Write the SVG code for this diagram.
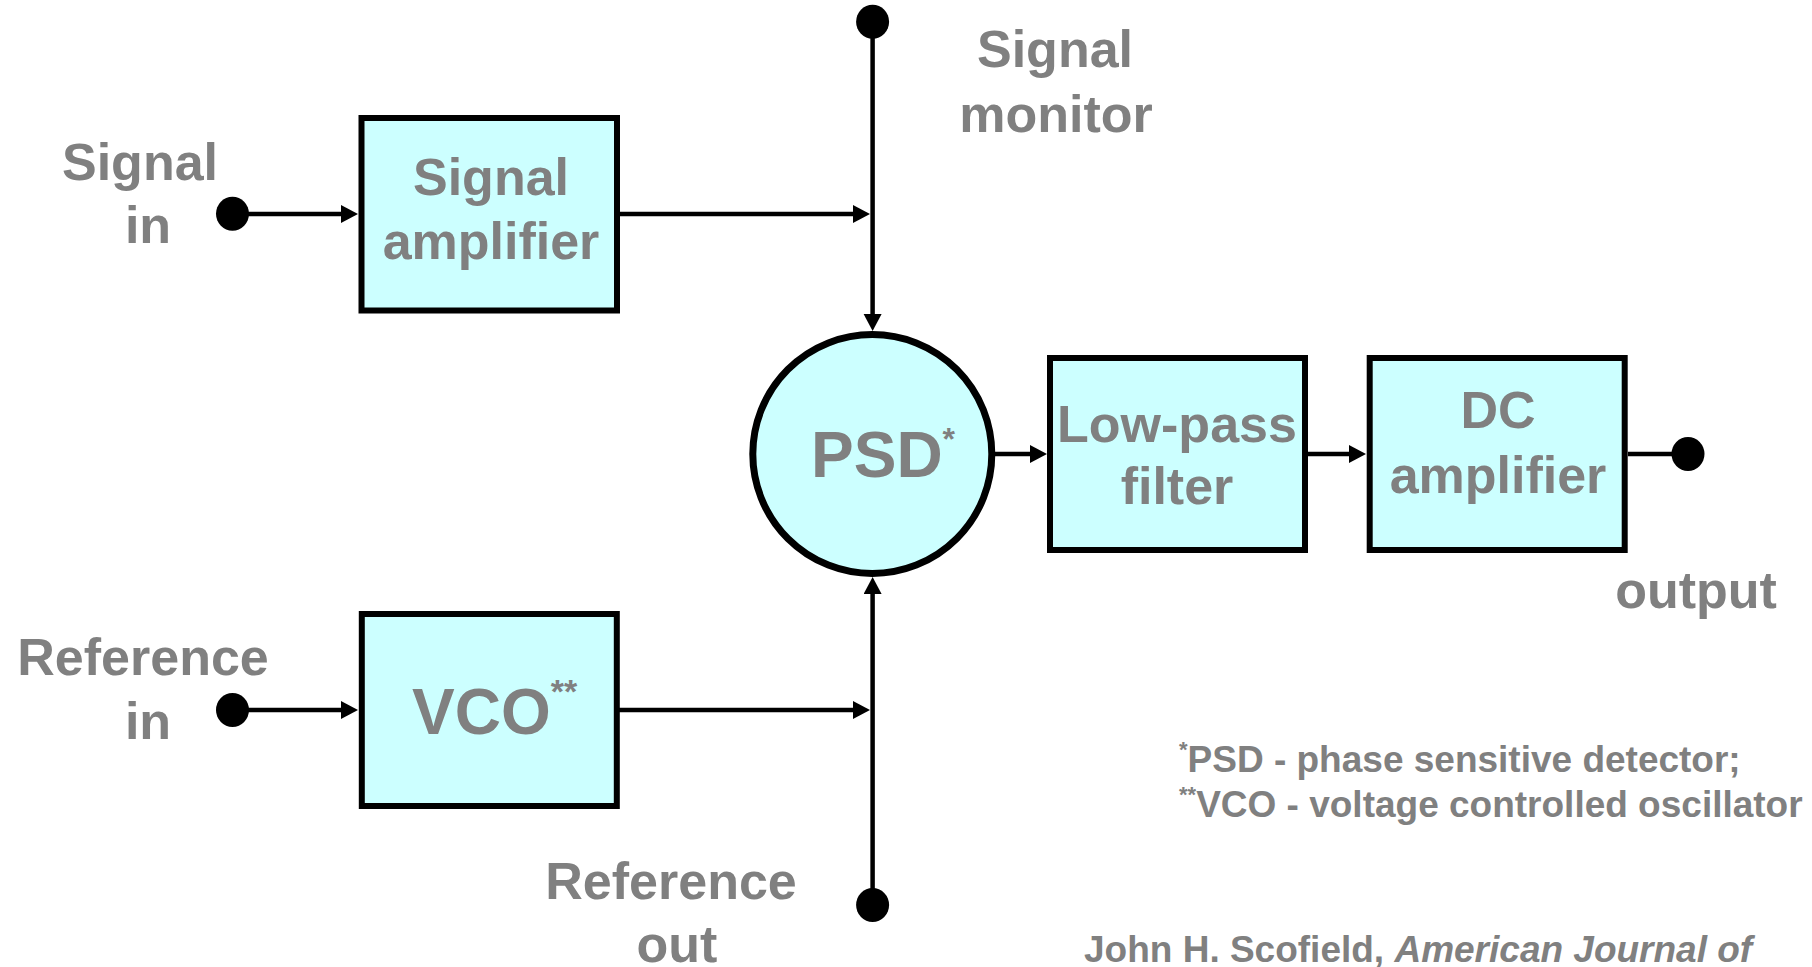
<svg xmlns="http://www.w3.org/2000/svg" width="1812" height="967" viewBox="0 0 1812 967">
<style>
  .box { fill: #CCFFFF; stroke: #000; stroke-width: 6; }
  .circ { fill: #CCFFFF; stroke: #000; stroke-width: 7; }
  .ln { stroke: #000; stroke-width: 4.5; fill: none; }
  .dot { fill: #000; }
  text { font-family: "Liberation Sans", Arial, sans-serif; font-weight: bold; fill: #808080; }
  .lbl { font-size: 52px; text-anchor: middle; }
  .big { font-size: 64px; }
  .note { font-size: 37px; }
</style>
<defs>
  <marker id="arr" markerUnits="userSpaceOnUse" markerWidth="18" markerHeight="20" refX="10" refY="9" orient="auto">
    <path d="M0,0 L17,9 L0,18 z" fill="#000"/>
  </marker>
</defs>
<rect width="1812" height="967" fill="#fff"/>

<g id="connectors">
  <line class="ln" x1="232" y1="214" x2="351" y2="214" marker-end="url(#arr)"/>
  <line class="ln" x1="619" y1="214" x2="863" y2="214" marker-end="url(#arr)"/>
  <line class="ln" x1="232" y1="710" x2="351" y2="710" marker-end="url(#arr)"/>
  <line class="ln" x1="619" y1="710" x2="863" y2="710" marker-end="url(#arr)"/>
  <line class="ln" x1="872.6" y1="22" x2="872.6" y2="324" marker-end="url(#arr)"/>
  <line class="ln" x1="872.6" y1="905" x2="872.6" y2="584" marker-end="url(#arr)"/>
  <line class="ln" x1="990" y1="454" x2="1040" y2="454" marker-end="url(#arr)"/>
  <line class="ln" x1="1308" y1="454" x2="1359" y2="454" marker-end="url(#arr)"/>
  <line class="ln" x1="1628" y1="454" x2="1688" y2="454"/>
  <ellipse class="dot" cx="232.5" cy="213.7" rx="16.5" ry="17"/>
  <ellipse class="dot" cx="232.5" cy="710" rx="16.5" ry="17"/>
  <ellipse class="dot" cx="872.6" cy="21.7" rx="16.5" ry="17"/>
  <ellipse class="dot" cx="872.6" cy="905" rx="16.5" ry="17"/>
  <ellipse class="dot" cx="1688" cy="454" rx="16.5" ry="17"/>
</g>

<g id="signal-in">
  <text class="lbl" x="140" y="180">Signal</text>
  <text class="lbl" x="148" y="243">in</text>
</g>

<g id="signal-amplifier">
  <rect class="box" x="361.5" y="118" width="255.5" height="192.5"/>
  <text class="lbl" x="491" y="195">Signal</text>
  <text class="lbl" x="491" y="259">amplifier</text>
</g>

<g id="signal-monitor">
  <text class="lbl" x="1055" y="67">Signal</text>
  <text class="lbl" x="1056" y="132">monitor</text>
</g>

<g id="psd">
  <circle class="circ" cx="872.3" cy="454" r="119.5"/>
  <text class="big" x="811" y="477">PSD<tspan font-size="32" dy="-27">*</tspan></text>
</g>

<g id="low-pass-filter">
  <rect class="box" x="1050" y="358" width="255" height="192"/>
  <text class="lbl" x="1177" y="442">Low-pass</text>
  <text class="lbl" x="1177" y="504">filter</text>
</g>

<g id="dc-amplifier">
  <rect class="box" x="1369.7" y="358" width="255" height="192"/>
  <text class="lbl" x="1498" y="428">DC</text>
  <text class="lbl" x="1498" y="493">amplifier</text>
</g>

<g id="output">
  <text class="lbl" x="1696" y="608">output</text>
</g>

<g id="reference-in">
  <text class="lbl" x="143" y="675">Reference</text>
  <text class="lbl" x="148" y="739">in</text>
</g>

<g id="vco">
  <rect class="box" x="361.8" y="614" width="255" height="192"/>
  <text class="big" x="412" y="734">VCO<tspan font-size="34" dy="-31">**</tspan></text>
</g>

<g id="reference-out">
  <text class="lbl" x="671" y="899">Reference</text>
  <text class="lbl" x="677" y="962">out</text>
</g>

<g id="notes">
  <text class="note" x="1179" y="772"><tspan font-size="22" dy="-15">*</tspan><tspan dy="15">PSD - phase sensitive detector;</tspan></text>
  <text class="note" x="1179" y="817"><tspan font-size="22" dy="-15">**</tspan><tspan dy="15">VCO - voltage controlled oscillator</tspan></text>
  <text class="note" x="1084" y="962">John H. Scofield, <tspan font-style="italic">American Journal of</tspan></text>
</g>
</svg>
